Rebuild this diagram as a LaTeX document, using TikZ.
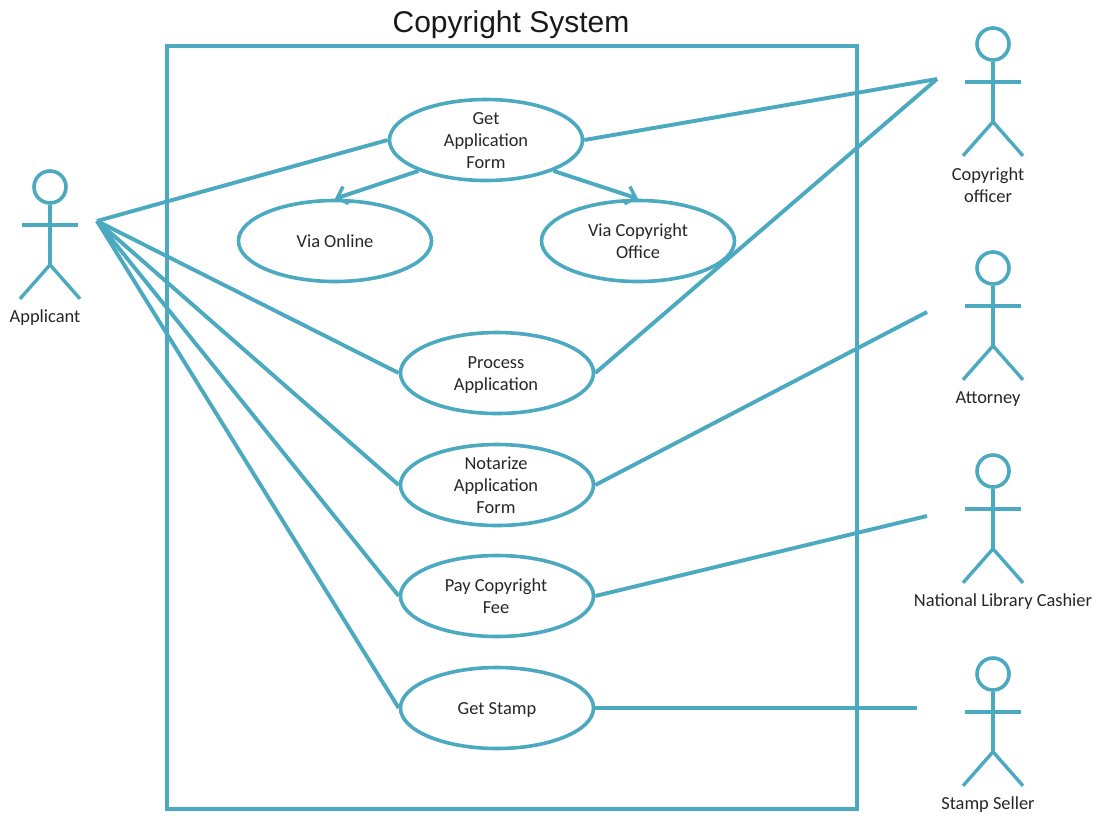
\documentclass[tikz,border=0pt]{standalone}
\usepackage{fontspec}
\setmainfont{Carlito}
\newfontfamily\titlefont{Liberation Sans}
\usetikzlibrary{shapes.geometric,arrows.meta}
\definecolor{uml}{HTML}{4BA9C0}
\definecolor{ink}{HTML}{262626}
\tikzset{
  umlline/.style={draw=uml,line width=3.9pt},
  thinline/.style={draw=uml,line width=3.4pt},
  usecase/.style={ellipse,draw=uml,line width=3.6pt,minimum width=193pt,minimum height=81pt,inner sep=0pt},
  uctext/.style={align=center,text=ink,font=\fontsize{18.4}{22}\selectfont,inner sep=0pt},
  assoc/.style={umlline},
  incl/.style={umlline,-{Straight Barb[length=9pt,width=18pt,line width=3.4pt]}},
  actorlabel/.style={text=ink,font=\fontsize{18.4}{22}\selectfont,inner sep=0pt},
  headc/.style={circle,draw=uml,line width=3.6pt,minimum size=32pt,inner sep=0pt}
}
\newcommand{\umlactor}[3]{%
  \node[headc] (#1) at (#2,#3) {};
  \draw[thinline] (#1.south) -- ++(0,-60pt) coordinate (#1hip);
  \draw[thinline] ([shift={(-28pt,-20pt)}]#1.south) -- ++(56pt,0);
  \draw[thinline] (#1hip) -- ++(-30pt,-34pt);
  \draw[thinline] (#1hip) -- ++(30pt,-34pt);
}
\begin{document}
\begin{tikzpicture}[x=1pt,y=-1pt]
\useasboundingbox (0,0) rectangle (1099,815);
\node[text=black!90,font=\titlefont\fontsize{30}{34}\selectfont,inner sep=0pt] (title) at (511,25) {Copyright System};
\node[draw=uml,line width=3.6pt,minimum width=690pt,minimum height=763pt,inner sep=0pt] (sys) at (512,427.5) {};

\node[usecase,label={[uctext,yshift=-1pt]center:Get\\Application\\Form}] (get) at (486,140) {};
\node[usecase,label={[uctext,yshift=0pt]center:Via Online}] (online) at (335,241) {};
\node[usecase,label={[uctext,yshift=0pt]center:Via Copyright\\Office}] (office) at (638,241) {};
\node[usecase,label={[uctext,yshift=-2pt,xshift=-1pt]center:Process\\Application}] (process) at (497,373) {};
\node[usecase,label={[uctext,yshift=0pt,xshift=-1pt]center:Notarize\\Application\\Form}] (notarize) at (497,485) {};
\node[usecase,label={[uctext,yshift=0pt,xshift=-1pt]center:Pay Copyright\\Fee}] (pay) at (497,596) {};
\node[usecase,label={[uctext,yshift=-2pt]center:Get Stamp}] (stamp) at (497,708) {};

\umlactor{applicant}{50}{187}
\umlactor{officer}{993}{44}
\umlactor{attorney}{993}{268}
\umlactor{cashier}{993}{471}
\umlactor{seller}{993}{674}

\node[actorlabel] (lapplicant) at (45,318) {Applicant};
\node[actorlabel,align=center] (lofficer) at (988,185) {Copyright\\officer};
\node[actorlabel] (lattorney) at (988,399) {Attorney};
\node[actorlabel] (lcashier) at (1003,602) {National Library Cashier};
\node[actorlabel] (lseller) at (988,805) {Stamp Seller};

\coordinate (a) at (97,221);
\coordinate (o) at (937,79);
\coordinate (t) at (927,312);
\coordinate (c) at (927,516);
\coordinate (s) at (917,708);

\draw[assoc] (a) -- (get.west);
\draw[assoc] (a) -- (process.west);
\draw[assoc] (a) -- (notarize.west);
\draw[assoc] (a) -- (pay.west);
\draw[assoc] (a) -- (stamp.west);
\draw[assoc] (get.east) -- (o);
\draw[assoc] (process.east) -- (o);
\draw[assoc] (notarize.east) -- (t);
\draw[assoc] (pay.east) -- (c);
\draw[assoc] (stamp.east) -- (s);
\draw[incl] (get.south west) ++(2pt,-1pt) -- (online.north);
\draw[incl] (get.south east) ++(-2pt,-1pt) -- (office.north);
\end{tikzpicture}
\end{document}
